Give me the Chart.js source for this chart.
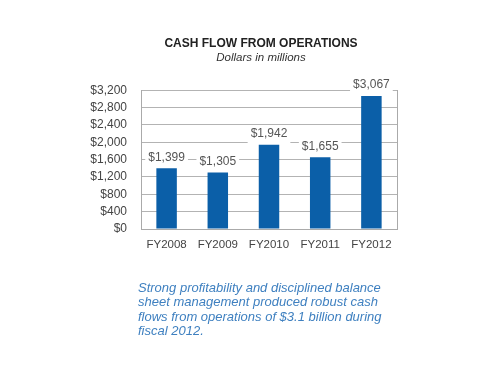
<!DOCTYPE html>
<html>
<head>
<meta charset="utf-8">
<script src="https://cdn.jsdelivr.net/npm/chart.js@4.4.1/dist/chart.umd.min.js"></script>
<style>
  html, body { margin: 0; padding: 0; background: #fff; }
  #wrap { position: relative; width: 480px; height: 384px; }
  #note {
    position: absolute; left: 138px; top: 281px;
    font: italic 13px "Liberation Sans", Arial, sans-serif;
    line-height: 14.3px; color: #3f80c0;
  }
</style>
</head>
<body>
<div id="wrap">
  <canvas id="chart" width="480" height="384"></canvas>
  <div id="note">Strong profitability and disciplined balance<br>sheet management produced robust cash<br>flows from operations of $3.1 billion during<br>fiscal 2012.</div>
</div>
<script>
const categories = ['FY2008', 'FY2009', 'FY2010', 'FY2011', 'FY2012'];
const cashFlow = [1399, 1305, 1942, 1655, 3067];
const valueLabels = ['$1,399', '$1,305', '$1,942', '$1,655', '$3,067'];

const FONT = '"Liberation Sans", Arial, sans-serif';

// labels above the bars, on a white box that cuts the grid lines
const barLabels = {
    id: 'barLabels',
    afterDatasetsDraw(chart) {
        const ctx = chart.ctx;
        const meta = chart.getDatasetMeta(0);
        ctx.save();
        ctx.font = '12px ' + FONT;
        ctx.textAlign = 'center';
        ctx.textBaseline = 'middle';
        meta.data.forEach((bar, i) => {
            const text = valueLabels[i];
            const y = bar.y - 11;
            const w = ctx.measureText(text).width + 6;
            ctx.fillStyle = '#fff';
            ctx.fillRect(bar.x - w / 2, y - 8, w, 18);
            ctx.fillStyle = '#555';
            ctx.fillText(text, bar.x, y);
        });
        ctx.restore();
    }
};

new Chart(document.getElementById('chart'), {
    type: 'bar',
    data: {
        labels: categories,
        datasets: [{
            data: cashFlow,
            backgroundColor: '#0b5fa8',
            categoryPercentage: 1,
            barPercentage: 0.4
        }]
    },
    options: {
        responsive: false,
        animation: false,
        layout: { padding: { left: 85, right: 43, top: 0, bottom: 125 } },
        plugins: {
            legend: { display: false },
            tooltip: { enabled: false },
            title: {
                display: true,
                text: 'CASH FLOW FROM OPERATIONS',
                color: '#222',
                font: { family: FONT, size: 12, weight: 'bold' },
                padding: { top: 36, bottom: 0 }
            },
            subtitle: {
                display: true,
                text: 'Dollars in millions',
                color: '#333',
                font: { family: FONT, size: 11.5, style: 'italic' },
                padding: { top: 0, bottom: 26 }
            }
        },
        scales: {
            x: {
                grid: { display: false },
                border: { display: true, color: '#aaa' },
                ticks: { color: '#444', font: { family: FONT, size: 11.5 }, padding: 1 },
                afterFit(scale) { scale.height = 30; }
            },
            y: {
                min: 0,
                max: 3200,
                grid: { color: '#b3b3b3', drawTicks: false },
                border: { display: true, color: '#aaa' },
                ticks: {
                    stepSize: 400,
                    autoSkip: false,
                    padding: 14,
                    color: '#444',
                    font: { family: FONT, size: 12 },
                    callback: v => '$' + v.toLocaleString('en-US')
                },
                afterFit(scale) { scale.width = 56; }
            },
            yRight: {
                position: 'right',
                min: 0,
                max: 3200,
                grid: { display: false },
                ticks: { display: false },
                border: { display: true, color: '#aaa' },
                afterFit(scale) { scale.width = 40; }
            }
        }
    },
    plugins: [barLabels]
});
</script>
</body>
</html>
